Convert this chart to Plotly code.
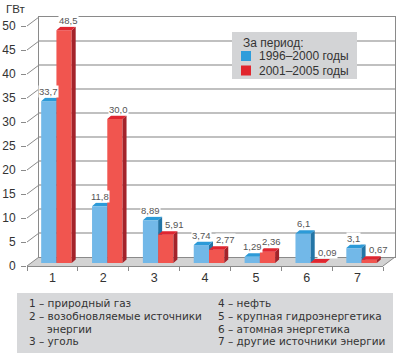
import plotly.graph_objects as go

# ---------------- data ----------------
categories = ["1", "2", "3", "4", "5", "6", "7"]
series_names = ["1996–2000 годы", "2001–2005 годы"]
values_1996_2000 = [33.7, 11.8, 8.89, 3.74, 1.29, 6.1, 3.1]
values_2001_2005 = [48.5, 30.0, 5.91, 2.77, 2.36, 0.09, 0.67]
labels_1996_2000 = ["33,7", "11,8", "8,89", "3,74", "1,29", "6,1", "3,1"]
labels_2001_2005 = ["48,5", "30,0", "5,91", "2,77", "2,36", "0,09", "0,67"]
y_ticks = [0, 5, 10, 15, 20, 25, 30, 35, 40, 45, 50]
unit_label = "ГВт"
legend_title = "За период:"
caption_left = ["1 – природный газ", "2 – возобновляемые источники", "энергии", "3 – уголь"]
caption_right = ["4 – нефть", "5 – крупная гидроэнергетика", "6 – атомная энергетика",
                 "7 – другие источники энергии"]

# ---------------- geometry / style ----------------
W, H = 401, 355
PL, PR, PT, PB = 27, 395, 17, 266
PW, PH = PR - PL, PB - PT
DX, DY = 12, 9          # wall depth in px
BX, BY = 4, 3           # bar inset from front
SX, SY = 4, 3.5         # bar 3D face depth
YMAX = 50
NC = len(categories)
xscale = (PW - DX) / NC
yscale = (PH - DY) / YMAX
BW = 0.3
sx, sy = SX / xscale, SY / yscale

FONT = "Liberation Sans, Arial, sans-serif"
CAP_FONT = "DejaVu Sans, Liberation Sans, sans-serif"
TXT = "#333333"
GRID = "#c0c0c0"
EDGE = "#8a8a8a"
blue_cols = dict(front="#72b8e8", top="#2c9ad8", side="#2475a6", legend="#2e9ddb")
red_cols = dict(front="#f1554f", top="#df2630", side="#a3232a", legend="#e1262e")


def px(x):
    return (x - PL) / PW


def py(y):
    return (PB - y) / PH


def faces(vals, offset):
    side_x, side_y, top_x, top_y = [], [], [], []
    for i, v in enumerate(vals):
        x0 = i + offset
        x1 = x0 + BW
        side_x += [x1, x1 + sx, x1 + sx, x1, x1, None]
        side_y += [0, sy, v + sy, v, 0, None]
        top_x += [x0, x1, x1 + sx, x0 + sx, x0, None]
        top_y += [v, v, v + sy, v + sy, v, None]
    return side_x, side_y, top_x, top_y


fig = go.Figure()

# invisible anchors for front and wall axes
fig.add_trace(go.Scatter(x=categories, y=[None] * NC, xaxis="x", yaxis="y",
                         mode="markers", showlegend=False, hoverinfo="skip"))
fig.add_trace(go.Scatter(x=[None], y=[None], xaxis="x2", yaxis="y2",
                         mode="markers", showlegend=False, hoverinfo="skip"))

idx = list(range(NC))
for name, vals, cols, off, xa, ya in [
        (series_names[0], values_1996_2000, blue_cols, -BW, "x3", "y3"),
        (series_names[1], values_2001_2005, red_cols, 0.0, "x4", "y4")]:
    fig.add_trace(go.Bar(x=idx, y=vals, width=BW, offset=off, marker_color=cols["front"],
                         marker_line_width=0, xaxis=xa, yaxis=ya, showlegend=False,
                         name=name, hoverinfo="skip"))
    s_x, s_y, t_x, t_y = faces(vals, off)
    fig.add_trace(go.Scatter(x=s_x, y=s_y, fill="toself", fillcolor=cols["side"], mode="lines",
                             line=dict(width=0, color=cols["side"]), xaxis=xa, yaxis=ya,
                             showlegend=False, hoverinfo="skip"))
    fig.add_trace(go.Scatter(x=t_x, y=t_y, fill="toself", fillcolor=cols["top"], mode="lines",
                             line=dict(width=0, color=cols["top"]), xaxis=xa, yaxis=ya,
                             showlegend=False, hoverinfo="skip"))

annotations = []
LBL = dict(size=9.5, color="#555555", family=FONT)
# data labels
for i in idx:
    vb, vr = values_1996_2000[i], values_2001_2005[i]
    annotations.append(dict(x=i - BW / 2, y=vb, xref="x3", yref="y3", text=labels_1996_2000[i],
                            showarrow=False, xshift=0, yshift=10, yanchor="middle",
                            font=LBL, bgcolor="white", borderpad=0))
    extra = 5 if vr < vb else 0
    annotations.append(dict(x=i + BW / 2, y=vr, xref="x4", yref="y4", text=labels_2001_2005[i],
                            showarrow=False, xshift=4 + extra, yshift=10, yanchor="middle",
                            font=LBL, bgcolor="white", borderpad=0))

annotations.append(dict(x=px(4), y=py(9), xref="paper", yref="paper", text=unit_label,
                        showarrow=False, xanchor="left", yanchor="middle",
                        font=dict(size=11.5, color=TXT, family=FONT)))

# manual legend
LEG = dict(size=12, color=TXT, family=FONT)
annotations.append(dict(x=px(241), y=py(42.5), xref="paper", yref="paper", text=legend_title,
                        showarrow=False, xanchor="left", yanchor="middle", font=LEG))
leg_rows = [56, 70.5]
for name, yy in zip(series_names, leg_rows):
    annotations.append(dict(x=px(257), y=py(yy), xref="paper", yref="paper", text=name,
                            showarrow=False, xanchor="left", yanchor="middle", font=LEG))

line_y = [303.2, 316, 328.8, 341.2]
CAP = dict(size=10.5, color=TXT, family=CAP_FONT)
for j, t in enumerate(caption_left):
    xx = 45 if t == "энергии" else 27
    annotations.append(dict(x=px(xx), y=py(line_y[j]), xref="paper", yref="paper", text=t,
                            showarrow=False, xanchor="left", yanchor="middle", font=CAP))
for j, t in enumerate(caption_right):
    annotations.append(dict(x=px(216), y=py(line_y[j]), xref="paper", yref="paper", text=t,
                            showarrow=False, xanchor="left", yanchor="middle", font=CAP))

shapes = []
# floor
fx1 = (PW - DX) / PW
bx0, by0 = DX / PW, DY / PH
shapes.append(dict(type="path", xref="paper", yref="paper", layer="below",
                   path=f"M 0 0 L {fx1} 0 L 1 {by0} L {bx0} {by0} Z",
                   fillcolor="#d3d3d3", line=dict(width=0)))
shapes.append(dict(type="line", xref="paper", yref="paper", x0=fx1, y0=0, x1=1, y1=by0,
                   line=dict(color=EDGE, width=1)))
# left side-wall diagonals at each tick
fh = (PH - DY) / PH
for t in y_ticks:
    yf = t / YMAX * fh
    shapes.append(dict(type="line", xref="paper", yref="paper", x0=0, y0=yf, x1=bx0, y1=yf + by0,
                       line=dict(color=EDGE, width=1)))
# legend box and swatches
shapes.append(dict(type="rect", xref="paper", yref="paper", x0=px(232), x1=px(357),
                   y0=py(79), y1=py(32), fillcolor="#d3d4d6", line=dict(width=0)))
for cols, yy in zip([blue_cols, red_cols], leg_rows):
    shapes.append(dict(type="rect", xref="paper", yref="paper", x0=px(241), x1=px(251),
                       y0=py(yy + 5), y1=py(yy - 5), fillcolor=cols["legend"], line=dict(width=0)))
# caption box
shapes.append(dict(type="rect", xref="paper", yref="paper", layer="below",
                   x0=px(17), x1=px(393), y0=py(293), y1=py(353),
                   fillcolor="#d7d8da", line=dict(width=0)))

fig.update_layout(
    width=W, height=H,
    margin=dict(l=PL, r=W - PR, t=PT, b=H - PB, autoexpand=False),
    paper_bgcolor="white", plot_bgcolor="rgba(0,0,0,0)",
    font=dict(family=FONT, color=TXT),
    hovermode=False,
    barmode="overlay",
    showlegend=False,
    xaxis=dict(domain=[0, fx1], type="category", categoryarray=categories, range=[-0.5, NC - 0.5],
               showline=True, linecolor=EDGE, linewidth=1, ticks="outside", tickson="boundaries",
               ticklen=4, tickcolor=EDGE, showgrid=False, zeroline=False, automargin=False,
               tickfont=dict(size=12.5, color=TXT), anchor="y", fixedrange=True),
    yaxis=dict(domain=[0, fh], range=[0, YMAX], tickvals=y_ticks, showline=False, showgrid=False,
               zeroline=False, ticks="outside", ticklen=5, tickcolor=EDGE, automargin=False,
               tickfont=dict(size=12, color=TXT), anchor="x", ticklabelstandoff=3, fixedrange=True),
    xaxis2=dict(domain=[bx0, 1], range=[-0.5, NC - 0.5], showline=True, mirror=True,
                linecolor=EDGE, linewidth=1, showgrid=False, zeroline=False, automargin=False,
                showticklabels=False, ticks="", anchor="y2"),
    yaxis2=dict(domain=[by0, 1], range=[0, YMAX], tickvals=y_ticks, showline=True, mirror=True,
                linecolor=EDGE, linewidth=1, showgrid=True, gridcolor=GRID, gridwidth=1.5,
                zeroline=False, showticklabels=False, ticks="", anchor="x2", automargin=False),
    xaxis3=dict(domain=[BX / PW, (PW - DX + BX) / PW], range=[-0.5, NC - 0.5], visible=False,
                anchor="y3", automargin=False),
    yaxis3=dict(domain=[BY / PH, (PH - DY + BY) / PH], range=[0, YMAX], visible=False,
                anchor="x3", automargin=False),
    xaxis4=dict(overlaying="x3", range=[-0.5, NC - 0.5], visible=False, anchor="y4"),
    yaxis4=dict(overlaying="y3", range=[0, YMAX], visible=False, anchor="x4"),
    annotations=annotations,
    shapes=shapes,
)

fig.write_html("out.html", config={"displayModeBar": False},
               post_script="document.body.style.margin='0px';document.body.style.overflow='hidden';")
